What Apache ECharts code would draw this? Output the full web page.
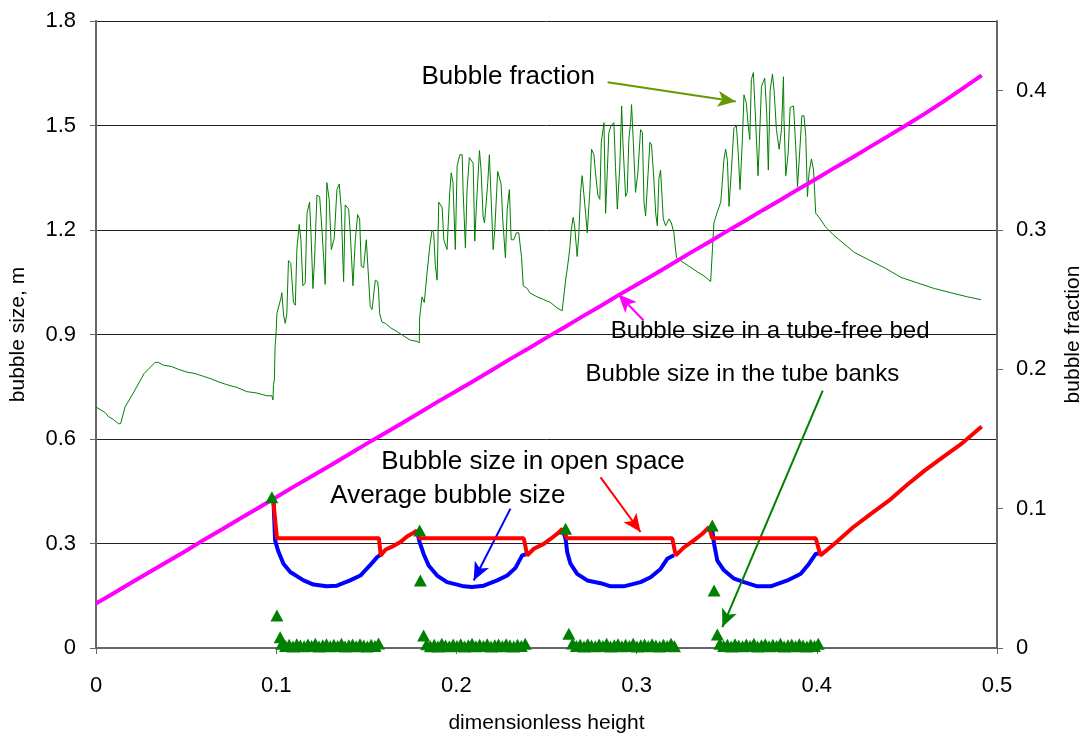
<!DOCTYPE html>
<html>
<head>
<meta charset="utf-8">
<script src="https://cdn.jsdelivr.net/npm/echarts@6/dist/echarts.min.js"></script>
<style>
  html, body { margin: 0; padding: 0; background: #fff; }
  #chart { width: 1087px; height: 740px; }
</style>
</head>
<body>
<div id="chart"></div>
<script>
// Axis ticks
const xTicks = [0, 0.1, 0.2, 0.3, 0.4, 0.5];
const sizeTicks = [0, 0.3, 0.6, 0.9, 1.2, 1.5, 1.8];
const fractionTicks = [0, 0.1, 0.2, 0.3, 0.4];

// Bubble fraction along the bed height (right axis)
const bubbleFraction = [
  [0,0.173],[0.005,0.169],[0.007,0.166],[0.0097,0.164],[0.0124,0.161],[0.0137,0.161],[0.0161,0.173],
  [0.0207,0.183],[0.0254,0.194],[0.0267,0.197],[0.0328,0.205],[0.0346,0.205],[0.0374,0.203],[0.042,0.202],
  [0.0457,0.200],[0.0504,0.198],[0.055,0.197],[0.0596,0.195],[0.0643,0.193],[0.068,0.191],[0.0726,0.189],
  [0.0782,0.187],[0.0837,0.184],[0.0893,0.183],[0.0948,0.181],[0.0976,0.181],[0.0982,0.178],
  [0.0985,0.189],[0.0990,0.193],[0.0994,0.217],[0.0999,0.225],[0.1004,0.240],[0.1026,0.251],[0.1031,0.255],
  [0.1041,0.239],[0.105,0.233],[0.1059,0.240],[0.1068,0.278],[0.1081,0.276],[0.1096,0.248],[0.1106,0.246],
  [0.1115,0.287],[0.1128,0.304],[0.1137,0.293],[0.1148,0.260],[0.1161,0.262],[0.1171,0.312],[0.1185,0.320],
  [0.1193,0.298],[0.1204,0.258],[0.1213,0.279],[0.1226,0.325],[0.1241,0.324],[0.1254,0.300],[0.1272,0.261],
  [0.1281,0.334],[0.1294,0.322],[0.1306,0.286],[0.1322,0.294],[0.1337,0.329],[0.135,0.333],[0.1361,0.315],
  [0.1374,0.263],[0.1383,0.318],[0.1402,0.315],[0.1411,0.298],[0.1426,0.260],[0.1439,0.293],[0.1452,0.311],
  [0.1463,0.308],[0.1472,0.274],[0.1485,0.273],[0.15,0.293],[0.1507,0.292],[0.1522,0.245],[0.1532,0.243],
  [0.155,0.264],[0.1563,0.263],[0.1568,0.257],[0.1574,0.240],[0.1587,0.234],[0.1606,0.233],[0.1633,0.230],
  [0.1671,0.227],[0.1707,0.224],[0.1744,0.221],[0.1782,0.220],[0.1794,0.219],
  [0.1796,0.237],[0.1809,0.252],[0.1822,0.248],[0.1837,0.269],[0.1852,0.288],[0.1865,0.300],[0.1874,0.298],
  [0.1883,0.275],[0.1893,0.264],[0.1902,0.320],[0.1921,0.316],[0.193,0.293],[0.1948,0.286],[0.1963,0.327],
  [0.1971,0.341],[0.1981,0.334],[0.1994,0.286],[0.2004,0.346],[0.2019,0.354],[0.2032,0.354],[0.2037,0.329],
  [0.205,0.287],[0.2059,0.329],[0.2072,0.352],[0.2093,0.348],[0.2102,0.292],[0.2111,0.317],[0.2128,0.357],
  [0.2137,0.343],[0.2148,0.310],[0.2156,0.305],[0.2174,0.334],[0.2183,0.354],[0.2193,0.354],[0.2204,0.286],
  [0.2213,0.300],[0.2229,0.342],[0.2248,0.333],[0.2257,0.308],[0.2272,0.280],[0.2282,0.315],[0.2294,0.329],
  [0.2304,0.293],[0.2318,0.293],[0.2333,0.298],[0.2346,0.298],[0.2361,0.281],[0.2371,0.260],[0.2393,0.258],
  [0.2407,0.255],[0.2448,0.252],[0.2485,0.250],[0.2522,0.248],[0.2559,0.244],[0.2587,0.242],[0.2593,0.242],
  [0.26,0.257],[0.2606,0.264],[0.2615,0.272],[0.2624,0.281],[0.263,0.288],[0.2637,0.300],[0.2648,0.309],
  [0.2656,0.303],[0.2667,0.286],[0.267,0.281],[0.2679,0.296],[0.2689,0.327],[0.2698,0.339],[0.2707,0.340],
  [0.2717,0.312],[0.2726,0.298],[0.2741,0.329],[0.275,0.358],[0.2763,0.354],[0.2772,0.341],[0.2785,0.325],
  [0.2796,0.322],[0.2804,0.363],[0.2819,0.377],[0.2828,0.312],[0.2846,0.370],[0.2859,0.375],[0.2874,0.377],
  [0.2883,0.345],[0.2893,0.315],[0.2907,0.346],[0.2917,0.389],[0.2924,0.363],[0.2939,0.324],[0.2948,0.327],
  [0.2957,0.365],[0.2967,0.377],[0.2972,0.390],[0.2982,0.363],[0.2994,0.327],[0.3007,0.341],[0.3022,0.372],
  [0.3032,0.370],[0.3041,0.320],[0.305,0.310],[0.3063,0.339],[0.3074,0.363],[0.3083,0.361],[0.3096,0.336],
  [0.3106,0.312],[0.3115,0.303],[0.3124,0.337],[0.3133,0.343],[0.3143,0.320],[0.3148,0.308],[0.3161,0.303],
  [0.318,0.308],[0.3193,0.305],[0.3207,0.298],[0.3217,0.285],[0.3222,0.280],[0.3244,0.278],[0.3291,0.274],
  [0.3337,0.270],[0.3374,0.267],[0.3411,0.263],[0.3417,0.262],
  [0.342,0.284],[0.3429,0.305],[0.3448,0.313],[0.3467,0.320],[0.3476,0.335],[0.3485,0.351],[0.3494,0.358],
  [0.3504,0.350],[0.3513,0.317],[0.3526,0.343],[0.354,0.373],[0.3554,0.375],[0.3565,0.353],[0.3574,0.329],
  [0.3587,0.365],[0.3596,0.397],[0.3609,0.391],[0.3618,0.377],[0.3628,0.365],[0.3637,0.408],[0.3648,0.413],
  [0.3661,0.377],[0.3674,0.339],[0.3685,0.376],[0.3693,0.403],[0.3711,0.409],[0.3722,0.384],[0.3731,0.343],
  [0.3741,0.400],[0.3754,0.412],[0.3763,0.400],[0.3776,0.372],[0.3791,0.358],[0.3804,0.372],[0.3815,0.410],
  [0.3818,0.379],[0.3828,0.339],[0.3841,0.355],[0.3852,0.388],[0.3871,0.389],[0.3883,0.360],[0.3893,0.331],
  [0.3907,0.360],[0.3917,0.382],[0.3929,0.382],[0.3939,0.367],[0.3948,0.324],[0.3957,0.341],[0.397,0.351],
  [0.3982,0.343],[0.3994,0.312],[0.4013,0.309],[0.405,0.302],[0.4096,0.296],[0.4152,0.290],[0.4207,0.284],
  [0.4282,0.279],[0.4374,0.273],[0.4467,0.266],[0.4559,0.262],[0.4652,0.258],[0.4744,0.255],[0.4837,0.252],
  [0.4911,0.250]
];

// Bubble size in a tube-free bed (left axis, m)
const freeBedSize = [
  [0,0.128],[0.01,0.158],[0.02,0.189],[0.03,0.219],[0.04,0.249],[0.05,0.279],[0.06,0.311],[0.07,0.341],
  [0.08,0.372],[0.09,0.402],[0.10,0.433],[0.11,0.464],[0.12,0.494],[0.13,0.524],[0.14,0.555],[0.15,0.586],
  [0.16,0.616],[0.17,0.646],[0.18,0.677],[0.19,0.708],[0.20,0.738],[0.21,0.768],[0.22,0.799],[0.23,0.830],
  [0.24,0.860],[0.25,0.891],[0.26,0.921],[0.27,0.952],[0.28,0.982],[0.29,1.013],[0.30,1.043],[0.31,1.073],
  [0.32,1.104],[0.33,1.135],[0.34,1.165],[0.35,1.196],[0.36,1.226],[0.37,1.257],[0.38,1.287],[0.39,1.318],
  [0.40,1.348],[0.41,1.379],[0.42,1.409],[0.43,1.440],[0.44,1.471],[0.45,1.502],[0.46,1.534],[0.47,1.568],
  [0.48,1.603],[0.4915,1.644]
];

// Bubble size in open space (left axis, m)
const openSpaceSize = [
  [0.0982,0.433],[0.1004,0.315],[0.157,0.315],[0.158,0.266],[0.1606,0.282],[0.1643,0.291],[0.1689,0.304],
  [0.1726,0.320],[0.1767,0.332],[0.178,0.337],[0.1796,0.315],[0.2374,0.315],[0.2393,0.266],[0.243,0.285],
  [0.2485,0.299],[0.2522,0.313],[0.2569,0.332],[0.2587,0.342],[0.2615,0.315],[0.3198,0.315],[0.3217,0.266],
  [0.3263,0.289],[0.3318,0.309],[0.3365,0.328],[0.3402,0.347],[0.342,0.315],[0.3994,0.315],[0.402,0.266],
  [0.41,0.300],[0.42,0.346],[0.43,0.385],[0.44,0.423],[0.45,0.468],[0.46,0.510],[0.47,0.548],[0.48,0.585],
  [0.4915,0.636]
];

// Average bubble size across each tube bank (left axis, m)
const averageSize = [
  [0.0982,0.433],[0.0985,0.423],[0.0994,0.309],[0.101,0.280],[0.104,0.242],[0.1078,0.218],[0.1152,0.194],
  [0.1207,0.182],[0.128,0.177],[0.1337,0.179],[0.141,0.194],[0.1467,0.208],[0.152,0.237],[0.156,0.261],
  [0.158,0.268],[0.168,'-'],
  [0.178,0.337],[0.1796,0.304],[0.1818,0.270],[0.1846,0.237],[0.1893,0.208],[0.1948,0.189],[0.2004,0.182],
  [0.2041,0.177],[0.2087,0.175],[0.2152,0.179],[0.2226,0.194],[0.2282,0.208],[0.2328,0.230],[0.2365,0.266],
  [0.2393,0.270],[0.249,'-'],
  [0.2587,0.342],[0.2606,0.313],[0.2615,0.275],[0.2633,0.242],[0.267,0.213],[0.2726,0.194],[0.28,0.186],
  [0.2856,0.177],[0.2929,0.177],[0.3022,0.189],[0.3078,0.203],[0.3133,0.227],[0.317,0.256],[0.3207,0.266],
  [0.331,'-'],
  [0.3402,0.347],[0.342,0.337],[0.343,0.299],[0.3448,0.251],[0.3485,0.223],[0.3541,0.199],[0.3596,0.189],
  [0.367,0.177],[0.3744,0.177],[0.3837,0.194],[0.3911,0.213],[0.3957,0.242],[0.3994,0.270],[0.4013,0.272]
];

// Bubble size inside the tube banks (left axis, m)
const tubeBankSize = [
  [0.0976,0.433],[0.1004,0.093],[0.1022,0.031],
  [0.1032,0.012],[0.1052,0.006],[0.1072,0.009],[0.1093,0.004],[0.1114,0.011],[0.1134,0.007],[0.1155,0.005],
  [0.1176,0.010],[0.1196,0.006],[0.1217,0.012],[0.1238,0.004],[0.1258,0.008],[0.1279,0.011],[0.1300,0.005],
  [0.1320,0.009],[0.1341,0.006],[0.1362,0.012],[0.1382,0.004],[0.1403,0.008],[0.1424,0.010],[0.1444,0.005],
  [0.1465,0.011],[0.1486,0.007],[0.1506,0.004],[0.1527,0.009],[0.1548,0.006],[0.1568,0.013],
  [0.1796,0.337],[0.1800,0.194],[0.1818,0.036],
  [0.1835,0.011],[0.1856,0.005],[0.1877,0.009],[0.1898,0.004],[0.1919,0.012],[0.1940,0.007],[0.1961,0.005],
  [0.1982,0.010],[0.2003,0.006],[0.2024,0.011],[0.2045,0.004],[0.2066,0.008],[0.2087,0.012],[0.2108,0.005],
  [0.2129,0.009],[0.2150,0.006],[0.2171,0.011],[0.2192,0.004],[0.2213,0.008],[0.2234,0.010],[0.2255,0.005],
  [0.2276,0.011],[0.2297,0.007],[0.2318,0.004],[0.2339,0.009],[0.2360,0.006],[0.2382,0.012],
  [0.2606,0.342],[0.2624,0.041],
  [0.2645,0.013],[0.2666,0.006],[0.2687,0.009],[0.2708,0.004],[0.2729,0.011],[0.2750,0.007],[0.2771,0.005],
  [0.2792,0.010],[0.2813,0.006],[0.2834,0.012],[0.2855,0.004],[0.2876,0.008],[0.2897,0.011],[0.2918,0.005],
  [0.2939,0.009],[0.2960,0.006],[0.2981,0.012],[0.3002,0.004],[0.3023,0.008],[0.3044,0.010],[0.3065,0.005],
  [0.3086,0.011],[0.3107,0.007],[0.3128,0.004],[0.3149,0.009],[0.3170,0.006],[0.3191,0.012],[0.3210,0.005],
  [0.3420,0.352],[0.3430,0.165],[0.3448,0.039],
  [0.3462,0.012],[0.3483,0.006],[0.3504,0.009],[0.3525,0.004],[0.3546,0.011],[0.3567,0.007],[0.3588,0.005],
  [0.3609,0.010],[0.3630,0.006],[0.3651,0.012],[0.3672,0.004],[0.3693,0.008],[0.3714,0.011],[0.3735,0.005],
  [0.3756,0.009],[0.3777,0.006],[0.3798,0.012],[0.3819,0.004],[0.3840,0.008],[0.3861,0.010],[0.3882,0.005],
  [0.3903,0.011],[0.3924,0.007],[0.3945,0.004],[0.3966,0.009],[0.3987,0.006],[0.4008,0.012]
];

// Callout texts, their left anchor points (x, bubble size) and font sizes
const calloutTexts = ['Bubble fraction', 'Bubble size in a tube-free bed', 'Bubble size in the tube banks',
  'Bubble size in open space', 'Average bubble size'];
const calloutAnchors = [[0.1806,1.641],[0.2856,0.909],[0.2717,0.785],[0.1583,0.535],[0.130,0.438]];
const calloutSizes = [26, 24, 24, 26, 26];
// Callout arrows: start and tip (x, bubble size), with colours
const arrowStarts = [[0.2839,1.624],[0.3039,0.940],[0.4033,0.739],[0.2800,0.490],[0.2300,0.400]];
const arrowTips   = [[0.3550,1.569],[0.2900,1.015],[0.3476,0.060],[0.3022,0.333],[0.2096,0.194]];
const arrowColors = ['#669900', '#ff00ff', '#008000', '#ff0000', '#0000ff'];

const FONT = '"Liberation Sans", Arial, sans-serif';
const chart = echarts.init(document.getElementById('chart'), null, { renderer: 'canvas' });

const axisLineStyle = { color: '#666', width: 2 };
const tickStyle = { color: '#666', width: 1 };
const tickFont = { fontSize: 22, color: '#000', fontFamily: FONT };
const nameFont = { fontSize: 21, color: '#000', fontFamily: FONT };

chart.setOption({
  animation: false,
  backgroundColor: '#fff',
  textStyle: { fontFamily: FONT },
  grid: { left: 96, right: 90, top: 21, bottom: 92, outerBoundsMode: 'none' },
  xAxis: {
    type: 'value', min: xTicks[0], max: xTicks[xTicks.length - 1], interval: 0.1,
    axisLine: { show: true, lineStyle: axisLineStyle },
    axisTick: { show: true, length: 6, lineStyle: tickStyle },
    axisLabel: Object.assign({ margin: 27 }, tickFont),
    splitLine: { show: false },
    name: 'dimensionless height', nameLocation: 'middle', nameGap: 65, nameTextStyle: nameFont
  },
  yAxis: [
    {
      type: 'value', min: sizeTicks[0], max: sizeTicks[sizeTicks.length - 1], interval: 0.3,
      axisLine: { show: true, lineStyle: axisLineStyle },
      axisTick: { show: true, length: 6, lineStyle: tickStyle },
      axisLabel: Object.assign({ margin: 20 }, tickFont),
      splitLine: { show: true, lineStyle: { color: '#222', width: 1 } },
      name: 'bubble size, m', nameLocation: 'middle', nameGap: 67, nameRotate: 90, nameTextStyle: nameFont
    },
    {
      type: 'value', position: 'right', min: 0, max: 0.45, interval: 0.1,
      axisLine: { show: true, lineStyle: axisLineStyle },
      axisTick: { show: true, length: 6, lineStyle: tickStyle, customValues: fractionTicks },
      axisLabel: Object.assign({ margin: 19, customValues: fractionTicks }, tickFont),
      splitLine: { show: false },
      name: 'bubble fraction', nameLocation: 'middle', nameGap: 66, nameRotate: 90, nameTextStyle: nameFont
    }
  ],
  series: [
    {
      name: 'Bubble fraction', type: 'line', yAxisIndex: 1, data: bubbleFraction,
      showSymbol: false, symbol: 'none', lineStyle: { color: '#008000', width: 1 }, z: 2
    },
    {
      name: 'Bubble size in a tube-free bed', type: 'line', yAxisIndex: 0, data: freeBedSize,
      showSymbol: false, symbol: 'none', lineStyle: { color: '#ff00ff', width: 4 }, z: 3
    },
    {
      name: 'Average bubble size', type: 'line', yAxisIndex: 0, data: averageSize,
      showSymbol: false, symbol: 'none', connectNulls: false, lineStyle: { color: '#0000ff', width: 4 }, z: 4
    },
    {
      name: 'Bubble size in open space', type: 'line', yAxisIndex: 0, data: openSpaceSize,
      showSymbol: false, symbol: 'none', lineStyle: { color: '#ff0000', width: 4 }, z: 5
    },
    {
      name: 'Bubble size in the tube banks', type: 'scatter', yAxisIndex: 0, data: tubeBankSize,
      symbol: 'triangle', symbolSize: [13, 12], itemStyle: { color: '#008000', opacity: 1 }, z: 6
    },
    {
      name: 'callouts', type: 'scatter', yAxisIndex: 0, data: [], z: 7, silent: true,
      markLine: {
        silent: true, animation: false,
        symbol: ['none', 'arrow'], symbolSize: [12, 18],
        label: { show: false },
        data: arrowStarts.map((s, i) => [
          { coord: s, lineStyle: { color: arrowColors[i], width: 2, type: 'solid' }, symbol: 'none' },
          { coord: arrowTips[i], symbol: 'arrow' }
        ])
      }
    }
  ]
});

// Callout texts, placed at their data anchors
chart.setOption({
  graphic: calloutTexts.map((t, i) => {
    const p = chart.convertToPixel({ xAxisIndex: 0, yAxisIndex: 0 }, calloutAnchors[i]);
    return {
      type: 'text', x: p[0], y: p[1], z: 100, silent: true,
      style: { text: t, fontSize: calloutSizes[i], fontFamily: FONT, fill: '#000',
               verticalAlign: 'middle', align: 'left' }
    };
  })
});
</script>
</body>
</html>
